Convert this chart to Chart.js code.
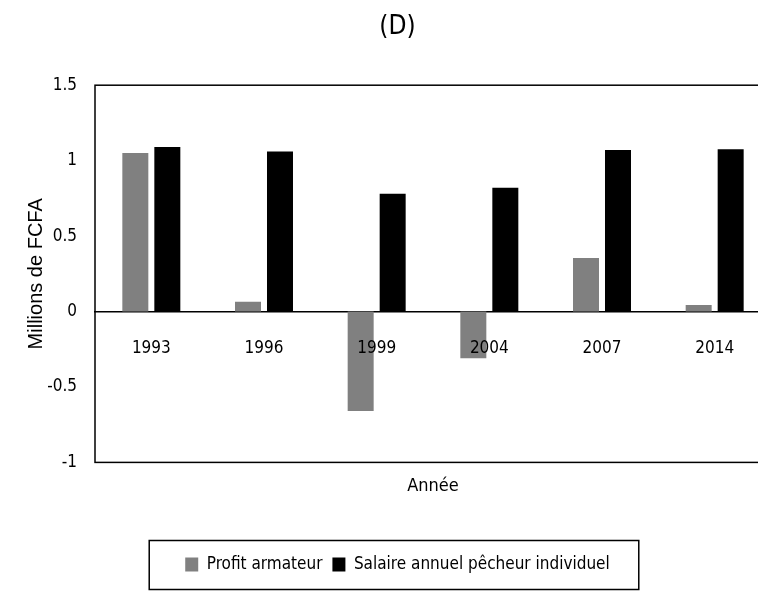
<!DOCTYPE html>
<html>
<head>
<meta charset="utf-8">
<script src="https://cdn.jsdelivr.net/npm/chart.js@4/dist/chart.umd.min.js"></script>
<style>
  html, body { margin: 0; padding: 0; background: #fff; overflow: hidden; }
  #wrap { width: 780px; height: 591px; }
</style>
</head>
<body>
<div id="wrap"><canvas id="chart" width="780" height="591"></canvas></div>
<script>
// Data (millions de FCFA)
const years = ['1993', '1996', '1999', '2004', '2007', '2014'];
const profitArmateur = [1.05, 0.064, -0.66, -0.31, 0.355, 0.044];
const salairePecheur = [1.09, 1.06, 0.78, 0.82, 1.07, 1.075];
const yTicks = [-1, -0.5, 0, 0.5, 1, 1.5];

const narrow = "'Liberation Sans Narrow', 'DejaVu Sans Condensed', sans-serif";

// Frame around the plot area
const plotBox = {
  id: 'plotBox',
  beforeDatasetsDraw(chart) {
    const { ctx, chartArea: a } = chart;
    ctx.save();
    ctx.strokeStyle = '#000';
    ctx.lineWidth = 1.5;
    ctx.strokeRect(a.left, a.top, a.right - a.left, a.bottom - a.top);
    ctx.restore();
  }
};

// Frame around the legend
const legendBox = {
  id: 'legendBox',
  afterDraw(chart) {
    const hb = chart.legend?.legendHitBoxes;
    if (!hb || !hb.length) return;
    const first = hb[0];
    const last = hb[hb.length - 1];
    const cy = first.top + first.height / 2;
    const ctx = chart.ctx;
    ctx.save();
    ctx.strokeStyle = '#000';
    ctx.lineWidth = 1.5;
    ctx.strokeRect(first.left - 36, cy - 24, (last.left + last.width + 29) - (first.left - 36), 49);
    ctx.restore();
  }
};

new Chart(document.getElementById('chart'), {
  type: 'bar',
  data: {
    labels: years,
    datasets: [
      {
        label: 'Profit armateur',
        data: profitArmateur,
        backgroundColor: '#808080',
        borderWidth: 0
      },
      {
        label: 'Salaire annuel pêcheur individuel',
        data: salairePecheur,
        backgroundColor: '#000000',
        borderWidth: 0
      }
    ]
  },
  options: {
    responsive: false,
    animation: false,
    devicePixelRatio: 1,
    categoryPercentage: 0.568,
    barPercentage: 0.8125,
    layout: { padding: { left: 24, right: 9, top: 0, bottom: 8 } },
    plugins: {
      title: {
        display: true,
        text: '(D)',
        color: '#000',
        font: { family: narrow, size: 26, weight: 'normal' },
        padding: { top: 12, bottom: 42 }
      },
      legend: {
        position: 'bottom',
        labels: {
          color: '#000',
          boxWidth: 13,
          boxHeight: 14,
          padding: 10,
          font: { family: narrow, size: 17 }
        }
      },
      tooltip: { enabled: false }
    },
    scales: {
      x: {
        position: { y: 0 },
        grid: { display: false, drawTicks: false },
        border: { display: true, color: '#000', width: 1.5 },
        ticks: {
          z: 1,
          color: '#000',
          padding: 27,
          maxRotation: 0,
          font: { family: narrow, size: 17 }
        }
      },
      x2: {
        type: 'category',
        position: 'bottom',
        labels: years,
        grid: { display: false, drawTicks: false },
        border: { display: false },
        ticks: { display: false },
        title: {
          display: true,
          text: 'Année',
          color: '#000',
          font: { family: narrow, size: 18 },
          padding: { top: 13, bottom: 49 }
        }
      },
      y: {
        min: yTicks[0],
        max: yTicks[yTicks.length - 1],
        grid: { display: false, drawTicks: false },
        border: { display: false },
        afterBuildTicks(scale) {
          scale.ticks = yTicks.map(v => ({ value: v }));
        },
        afterFit(scale) {
          scale.width = 71;
        },
        ticks: {
          color: '#000',
          padding: 18,
          font: { family: narrow, size: 17 },
          callback: v => String(v)
        },
        title: {
          display: true,
          text: 'Millions de FCFA',
          color: '#000',
          font: { family: "'Liberation Sans', Arial, sans-serif", size: 20 },
          padding: { top: 0, bottom: 0 }
        }
      }
    }
  },
  plugins: [plotBox, legendBox]
});
</script>
</body>
</html>
